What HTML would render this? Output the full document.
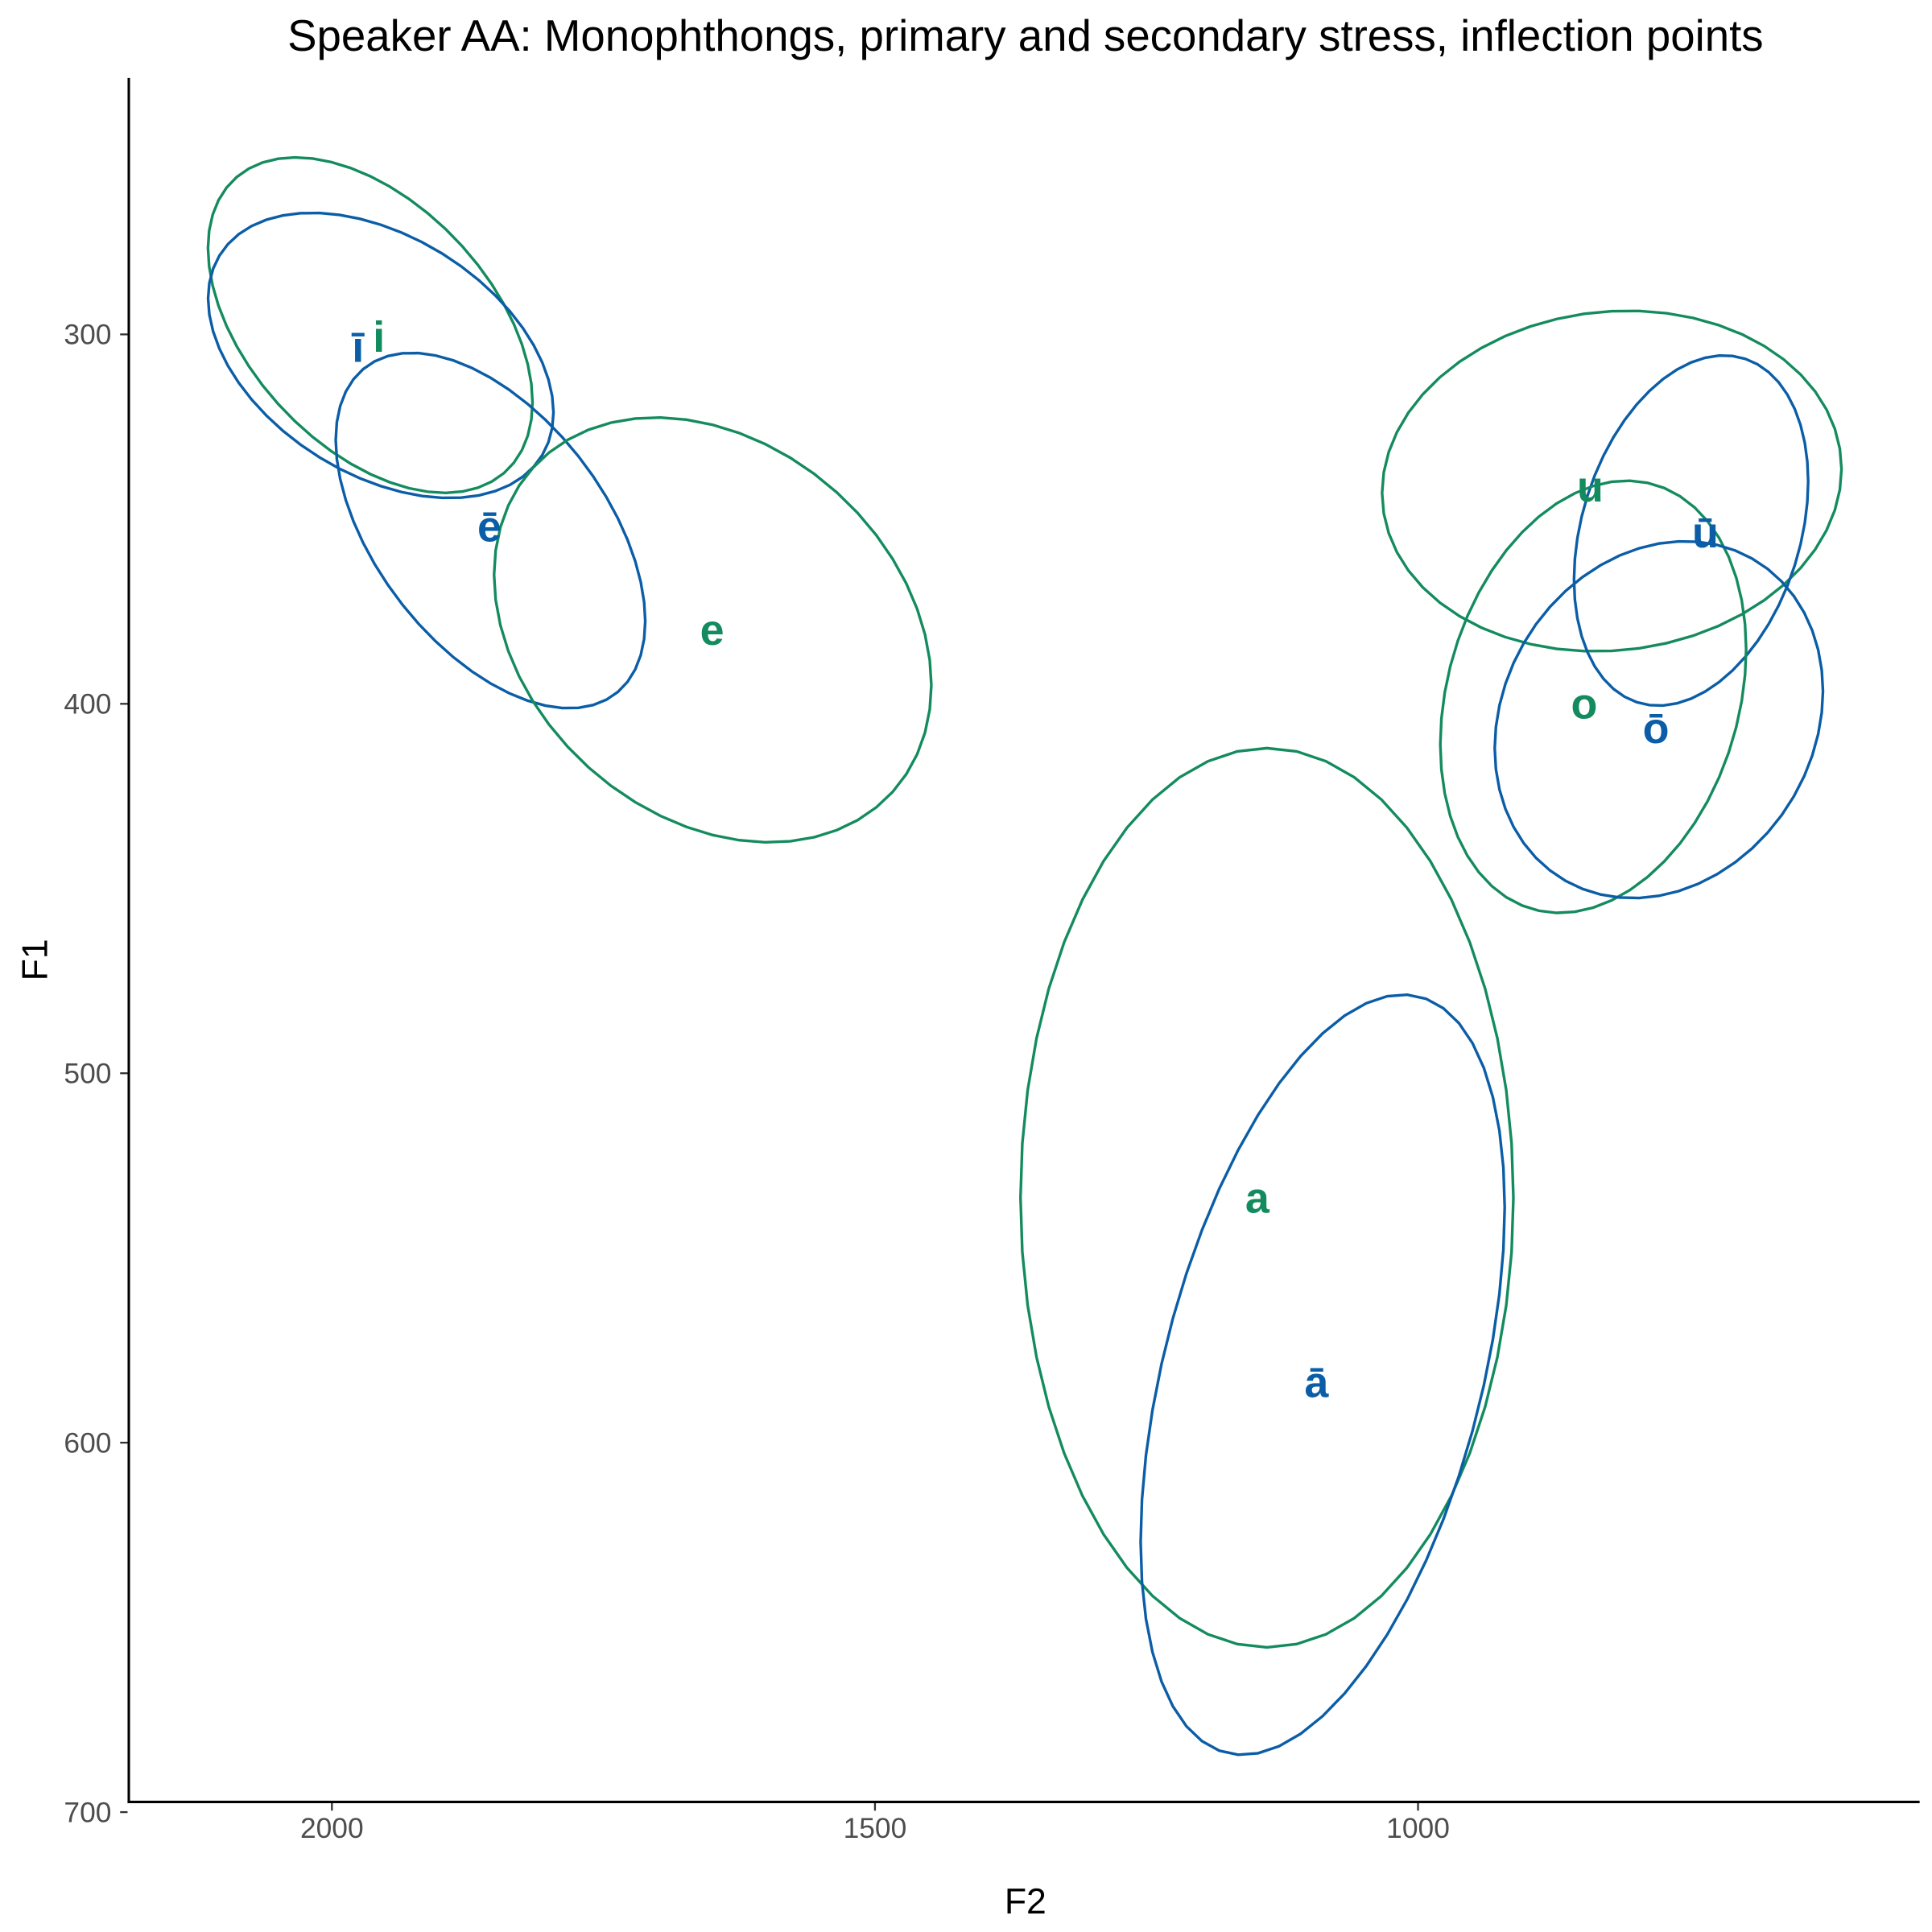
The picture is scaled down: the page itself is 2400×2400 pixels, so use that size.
<!DOCTYPE html>
<html><head><meta charset="utf-8"><style>
html,body{margin:0;padding:0;background:#fff;}
svg{display:block;}
text{font-family:"Liberation Sans",Arial,sans-serif;}
</style></head><body>
<svg id="chart" width="2400" height="2400" viewBox="0 0 1560 1560" xmlns="http://www.w3.org/2000/svg">
<rect width="1560" height="1560" fill="#fff"/>
<text x="828" y="41" font-size="35.5" text-anchor="middle" fill="#000">Speaker AA: Monophthongs, primary and secondary stress, inflection points</text>
<g id="plot"></g>
<line x1="104" y1="63" x2="104" y2="1456" stroke="#000" stroke-width="2"/>
<line x1="103" y1="1455" x2="1550" y2="1455" stroke="#000" stroke-width="2"/>
<text x="828" y="1545" font-size="29" text-anchor="middle" fill="#000">F2</text>
<text transform="translate(38,775) rotate(-90)" font-size="29" text-anchor="middle" fill="#000">F1</text>
</svg>
<script>
const xTicks=[2000,1500,1000];
const yTicks=[300,400,500,600,700];
const vowels=["i","ī","ē","e","a","ā","u","ū","o","ō"];
const groups=["short","long","long","short","short","long","short","long","short","long"];
const meanF2=[1964.7,1955,1854,1649.4,1139.1,1087.8,821.6,748.6,838.7,778.3];
const meanF1=[297.5,305.7,353.1,380,533.7,581.6,339.7,353.1,398.1,404.3];
const sdF2=[149.4,159,142.5,201.3,226.9,167.6,211.5,107.8,140.8,151.1];
const sdF1=[45.4,38.6,48.1,57.5,121.7,102.9,46.1,47.4,58.5,48.3];
const corr=[-0.46,-0.4,-0.51,-0.26,0,0.44,0.07,0.28,0.22,0.16];
const labelF2=[1956.7,1976,1855,1650,1148,1093.5,841.5,735.5,847,781];
const labelF1=[300.7,303.4,352,380,533.7,583.6,341.2,353.6,399.9,406.6];
const colors={short:"#148b5e",long:"#0a5da6"};
function xs(v){return 268+(2000-v)*0.877;}
function ys(v){return 270+(v-300)*2.983;}
const NS="http://www.w3.org/2000/svg";
const svg=document.getElementById('chart');
const plot=document.getElementById('plot');
xTicks.forEach(t=>{
  const l=document.createElementNS(NS,'line');
  l.setAttribute('x1',xs(t));l.setAttribute('x2',xs(t));l.setAttribute('y1',1456);l.setAttribute('y2',1462);
  l.setAttribute('stroke','#333');l.setAttribute('stroke-width','1.5');
  
  
  svg.appendChild(l);
  const tx=document.createElementNS(NS,'text');
  tx.setAttribute('x',xs(t));tx.setAttribute('y',1484);tx.setAttribute('font-size','23');
  tx.setAttribute('text-anchor','middle');tx.setAttribute('fill','#4d4d4d');tx.textContent=t;
  
  
  svg.appendChild(tx);
});
yTicks.forEach(t=>{
  const l=document.createElementNS(NS,'line');
  l.setAttribute('x1',97);l.setAttribute('x2',103);l.setAttribute('y1',ys(t));l.setAttribute('y2',ys(t));
  l.setAttribute('stroke','#333');l.setAttribute('stroke-width','1.5');
  
  
  svg.appendChild(l);
  const tx=document.createElementNS(NS,'text');
  tx.setAttribute('x',90);tx.setAttribute('y',ys(t)+8);tx.setAttribute('font-size','23');
  tx.setAttribute('text-anchor','end');tx.setAttribute('fill','#4d4d4d');tx.textContent=t;
  
  
  svg.appendChild(tx);
});
vowels.forEach((v,i)=>{
  const r=corr[i],s=Math.sqrt(1-r*r);let d='';
  for(let k=0;k<=52;k++){
    const t=k/52*2*Math.PI;
    const f2=meanF2[i]+sdF2[i]*Math.cos(t);
    const f1=meanF1[i]+sdF1[i]*(r*Math.cos(t)+s*Math.sin(t));
    d+=(k?'L':'M')+xs(f2).toFixed(2)+','+ys(f1).toFixed(2);
  }
  const p=document.createElementNS(NS,'path');
  p.setAttribute('d',d+'Z');p.setAttribute('fill','none');
  p.setAttribute('stroke',colors[groups[i]]);p.setAttribute('stroke-width','2.2');
  
  
  plot.appendChild(p);
});
vowels.forEach((v,i)=>{
  const tx=document.createElementNS(NS,'text');
  tx.setAttribute('x',xs(labelF2[i]));tx.setAttribute('y',ys(labelF1[i])+12);
  tx.setAttribute('font-size','35');tx.setAttribute('font-weight','bold');
  tx.setAttribute('text-anchor','middle');tx.setAttribute('fill',colors[groups[i]]);
  tx.textContent=v;
  
  
  plot.appendChild(tx);
});
</script>
</body></html>
